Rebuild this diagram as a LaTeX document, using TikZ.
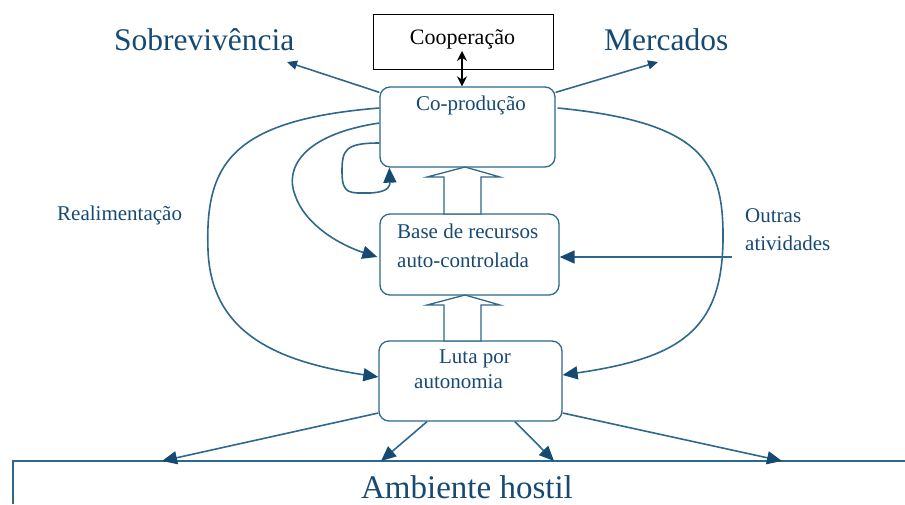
\documentclass[tikz,border=0pt]{standalone}
\usepackage{fontspec}
\setmainfont{Liberation Serif}
\usetikzlibrary{arrows.meta,calc}
\definecolor{lb}{RGB}{46,104,140}
\definecolor{tb}{RGB}{22,74,115}
\begin{document}
\begin{tikzpicture}[x=1pt,y=-1pt,
  box/.style={draw=lb,line width=1.3pt,rounded corners=10pt,fill=white,inner sep=0pt},
  arr/.style={draw=lb,line width=1.6pt,-{Triangle[length=15pt,width=13pt,color=tb]}},
  sarr/.style={draw=lb,line width=1.6pt,-{Triangle[length=10pt,width=9pt,color=tb]}},
  txt/.style={text=tb,font=\fontsize{21}{25}\selectfont,inner sep=0pt},
  big/.style={text=tb,font=\fontsize{31.5}{35}\selectfont,inner sep=0pt},
  blockarrow/.style={draw=lb,line width=1.3pt,fill=white,line join=miter}]
\useasboundingbox (0,0) rectangle (905,504);
% boxes
\node[draw=black,line width=1pt,minimum width=180pt,minimum height=55pt,inner sep=0pt] (coop) at (463,41.5) {};
\node[font=\fontsize{22}{26}\selectfont,inner sep=0pt,anchor=base] (tcoop) at (462.5,44) {Cooperação};
\node[box,minimum width=175pt,minimum height=80pt] (coprod) at (467.5,127) {};
\node[box,minimum width=179pt,minimum height=81pt] (base) at (469.5,254.5) {};
\node[box,minimum width=183pt,minimum height=80pt] (luta) at (470.5,381) {};
% texts
\node[txt,anchor=base] (tcoprod) at (471,110) {Co-produção};
\node[txt,anchor=base west] (tbase1) at (397,238) {Base de recursos};
\node[txt,anchor=base west] (tbase2) at (397,267) {auto-controlada};
\node[txt,anchor=base] (tluta1) at (475,363) {Luta por};
\node[txt,anchor=base west] (tluta2) at (414,388) {autonomia};
\node[txt,anchor=base west] (treal) at (57,220) {Realimentação};
\node[txt,anchor=base west] (tout1) at (745,222) {Outras};
\node[txt,anchor=base west] (tout2) at (745,250) {atividades};
\node[big,anchor=base west] (sobre) at (114,50) {Sobrevivência};
\node[big,anchor=base west] (merc) at (604,50) {Mercados};
\node[text=tb,font=\fontsize{33}{37}\selectfont,inner sep=0pt,anchor=base] (amb) at (467,498) {Ambiente hostil};
% ambiente frame
\coordinate (ambtl) at (13,461);
\draw[lb,line width=1.3pt] (13,504) -- (ambtl) -- (905,461);
% block arrows
\draw[blockarrow] (465,167) -- (500,177) -- (481,177) -- (481,214) -- (444,214) -- (444,177) -- (427,177) -- cycle;
\draw[blockarrow] (465,295) -- (500,305) -- (481,305) -- (481,341) -- (444,341) -- (444,305) -- (427,305) -- cycle;
% cooperation double arrow
\coordinate (ctop) at (462,51);
\draw[black,line width=1.4pt,{Stealth[length=10pt,width=10pt]}-{Stealth[length=10pt,width=10pt]}] (ctop) -- (ctop |- coprod.north);
% outputs
\coordinate (csob) at (287,62);
\coordinate (cmerc) at (658,62);
\draw[sarr] ($(coprod.north west)+(0,6)$) -- (csob);
\draw[sarr] ($(coprod.north east)+(0,6)$) -- (cmerc);
% feedback curves
\draw[arr] ($(coprod.west)+(0,-19)$) .. controls (230,120) and (205,165) .. (208,250)
  .. controls (211,335) and (280,362) .. ($(luta.west)+(0,-4)$);
\draw[arr] ($(coprod.west)+(0,-4)$) .. controls (300,135) and (285,170) .. (295,195)
  .. controls (305,225) and (340,245) .. ($(base.west)+(-2,2.5)$);
\draw[arr] ($(coprod.west)+(0,16)$) .. controls (345,143) and (342,150) .. (342,172)
  .. controls (342,195) and (350,193) .. (370,193) .. controls (390,192) and (390,185) .. ($(coprod.south west)+(10,0)$);
\draw[arr] ($(coprod.east)+(2,-19)$) .. controls (700,122) and (724,160) .. (723,240)
  .. controls (722,330) and (680,358) .. ($(luta.east)+(0,-6)$);
% other activities
\coordinate (coa) at (732,257);
\draw[arr] (coa) -- (base.east |- coa);
% down to environment
\coordinate (e1) at (162,461);
\coordinate (e2) at (381,461);
\coordinate (e3) at (554,461);
\coordinate (e4) at (782,461);
\draw[arr] ($(luta.west)+(0,32)$) -- (e1);
\draw[arr] ($(luta.south)+(-43.5,0)$) -- (e2);
\draw[arr] ($(luta.south)+(44.5,0)$) -- (e3);
\draw[arr] ($(luta.east)+(0,32)$) -- (e4);
\end{tikzpicture}
\end{document}
